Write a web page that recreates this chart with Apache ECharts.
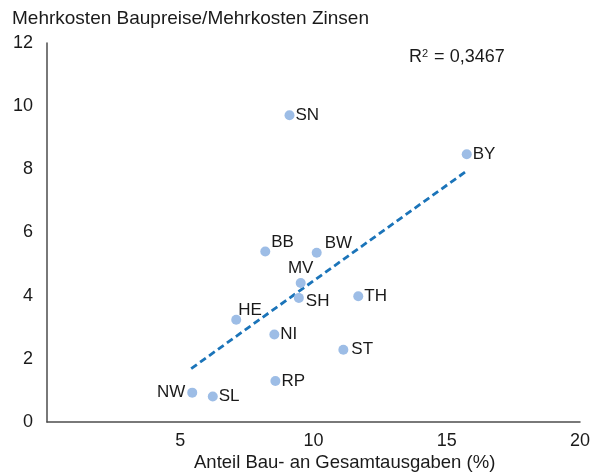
<!DOCTYPE html>
<html>
<head>
<meta charset="utf-8">
<script src="https://cdn.jsdelivr.net/npm/echarts@6/dist/echarts.min.js"></script>
<style>
html,body{margin:0;padding:0;background:#fff;}
#chart{width:597px;height:474px;}
</style>
</head>
<body>
<div id="chart"></div>
<script>
// Data
const states = ['SN','BY','BB','BW','MV','SH','TH','HE','NI','ST','RP','NW','SL'];
const anteilBau = [9.10, 15.75, 8.19, 10.12, 9.52, 9.45, 11.68, 7.10, 8.53, 11.12, 8.57, 5.45, 6.22];
const mehrkosten = [9.71, 8.48, 5.40, 5.36, 4.40, 3.93, 3.98, 3.24, 2.77, 2.29, 1.30, 0.93, 0.81];
const trendX = [5.41, 15.75];
const trendY = [1.69, 7.95];
const xTicks = [5, 10, 15, 20];
const yTicks = [0, 2, 4, 6, 8, 10, 12];
const rSquared = '0,3467';

const FONT = '"Liberation Sans", Arial, Helvetica, sans-serif';
const TXT = '#1a1a1a';

const labelStyle = {
  NW: {position: 'left', distance: 2},
  BB: {position: 'right', distance: 1, offset: [0, -9]},
  BW: {position: 'right', distance: 3, offset: [0, -9]},
  MV: {position: 'top', distance: 1},
  SH: {position: 'right', distance: 2, offset: [0, 3]},
  HE: {position: 'right', distance: 1, offset: [-4, -9]},
  ST: {position: 'right', distance: 3}
};

const scatterData = states.map((s, i) => {
  const ls = labelStyle[s] || {position: 'right', distance: 1};
  return {name: s, value: [anteilBau[i], mehrkosten[i]], label: Object.assign({}, ls)};
});

const chart = echarts.init(document.getElementById('chart'), null, {renderer: 'canvas'});
chart.setOption({
  animation: false,
  backgroundColor: '#ffffff',
  textStyle: {fontFamily: FONT},
  grid: {left: 47, right: 17, top: 43, bottom: 52, containLabel: false},
  xAxis: {
    type: 'value', min: 0, max: 20, interval: 5,
    axisLine: {show: true, lineStyle: {color: '#4d4d4d', width: 1.5}},
    axisTick: {show: false},
    splitLine: {show: false},
    axisLabel: {
      color: TXT, fontSize: 18, fontFamily: FONT, margin: 10,
      formatter: v => xTicks.includes(v) ? String(v) : ''
    }
  },
  yAxis: {
    type: 'value', min: 0, max: 12, interval: 2,
    axisLine: {show: true, lineStyle: {color: '#4d4d4d', width: 1.5}},
    axisTick: {show: false},
    splitLine: {show: false},
    axisLabel: {
      color: TXT, fontSize: 18, fontFamily: FONT, margin: 14,
      formatter: v => yTicks.includes(v) ? String(v) : ''
    }
  },
  graphic: [
    {type: 'text', left: 12, top: 9, style: {text: 'Mehrkosten Baupreise/Mehrkosten Zinsen', fill: TXT, font: '19px ' + FONT}},
    {type: 'text', left: 194, top: 453, style: {text: 'Anteil Bau- an Gesamtausgaben (%)', fill: TXT, font: '18.5px ' + FONT}},
    {type: 'text', left: 409, top: 48, style: {
      text: '{a|R}{s|2}{a| = ' + rSquared + '}',
      rich: {
        a: {fill: TXT, fontSize: 18, fontFamily: FONT, verticalAlign: 'bottom'},
        s: {fill: TXT, fontSize: 11, fontFamily: FONT, verticalAlign: 'top', padding: [0, 1, 7, 0]}
      }
    }}
  ],
  series: [
    {
      type: 'line',
      data: trendX.map((x, i) => [x, trendY[i]]),
      symbol: 'none',
      lineStyle: {color: '#1b74b9', width: 2.8, type: [7, 4]},
      z: 1
    },
    {
      type: 'scatter',
      data: scatterData,
      symbolSize: 10,
      itemStyle: {color: '#9dbde6', opacity: 1},
      label: {show: true, formatter: '{b}', color: TXT, fontSize: 17, fontFamily: FONT},
      z: 2
    }
  ]
});
</script>
</body>
</html>
